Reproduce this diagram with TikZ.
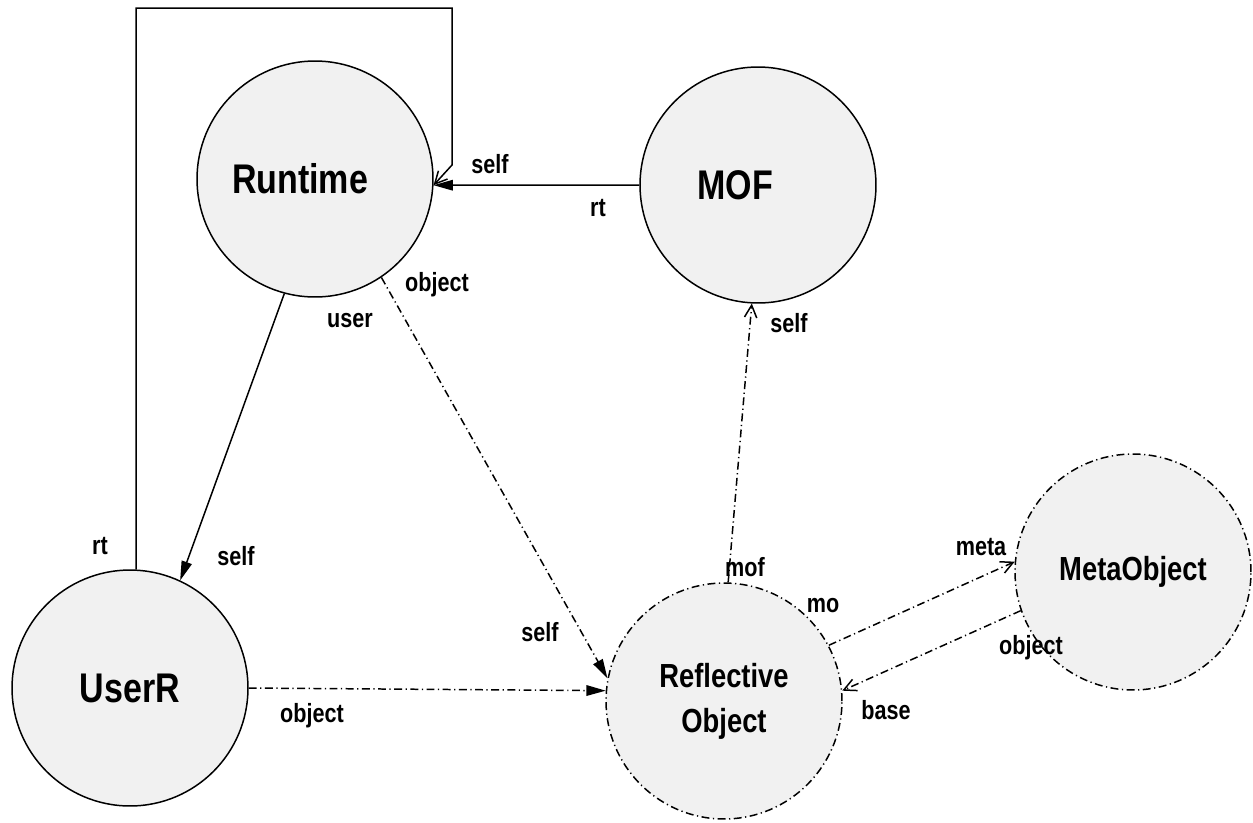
\documentclass[tikz,border=0pt]{standalone}
\usepackage{fontspec}
\setmainfont{Liberation Sans}[FakeStretch=0.82]
\usetikzlibrary{arrows.meta}
\definecolor{objgray}{gray}{0.945}

\begin{document}
\begin{tikzpicture}[x=0.02cm, y=-0.02cm, line width=0.85pt,
    obj/.style={circle, draw, fill=objgray, minimum size=4.72cm, inner sep=0pt, align=center, font=\bfseries\fontsize{23.6}{26}\selectfont},
    dd/.style={dash pattern=on 4.5pt off 2pt on 0.7pt off 2pt},
    small/.style={font=\bfseries\fontsize{19}{25.6}\selectfont},
    lbl/.style={inner sep=0pt, font=\bfseries\fontsize{15}{17}\selectfont},
    fillhead/.style={-{Triangle[length=11pt, width=6pt]}},
    openhead/.style={-{Straight Barb[length=7pt, width=7pt]}}]
  \useasboundingbox (0,0) rectangle (1253,822);

  \node[obj] (runtime) at (315,179) {\hspace*{-17pt}Runtime};
  \node[obj] (mof) at (758,185) {\hspace*{-26pt}MOF};
  \node[obj] (userr) at (130,688) {UserR};
  \node[obj, dd, small] (reflobj) at (724,701) {Reflective\\Object};
  \node[obj, dd, small] (metaobj) at (1133,572) {MetaObject};

  \coordinate (looptop) at (452,8);
  \coordinate (loopbend) at (452,165);

  \draw[fillhead] (mof.west) -- (runtime.-3);
  \draw[openhead] (userr.87) |- (looptop) -- (loopbend) -- (runtime.-3);
  \draw[fillhead] (runtime.-105) -- (userr.65);
  \draw[fillhead, dd] (runtime.-56) -- (reflobj.169);
  \draw[fillhead, dd] (userr.east) -- (reflobj.175);
  \draw[openhead, dd] (reflobj.88) -- (mof.-93);
  \draw[openhead, dd] (reflobj.28) -- (metaobj.175);
  \draw[openhead, dd] (metaobj.199) -- (reflobj.5);

  % role names
  \node[lbl] (selfrun) at (490,164) {self};
  \node[lbl] (rtmof) at (598,208) {rt};
  \node[lbl] (rtuser) at (100,546) {rt};
  \node[lbl] (userrun) at (350,321) {user};
  \node[lbl] (objrun) at (437,285) {object};
  \node[lbl] (selfuser) at (236,556) {self};
  \node[lbl] (selfmof) at (789,323) {self};
  \node[lbl] (mofrefl) at (745,567) {mof};
  \node[lbl] (morefl) at (823,606) {mo};
  \node[lbl] (metameta) at (981,547) {meta};
  \node[lbl] (objmeta) at (1031,648) {object};
  \node[lbl] (baserefl) at (886,710) {base};
  \node[lbl] (selfrefl) at (540,632) {self};
  \node[lbl] (objuser) at (312,716) {object};
\end{tikzpicture}
\end{document}
